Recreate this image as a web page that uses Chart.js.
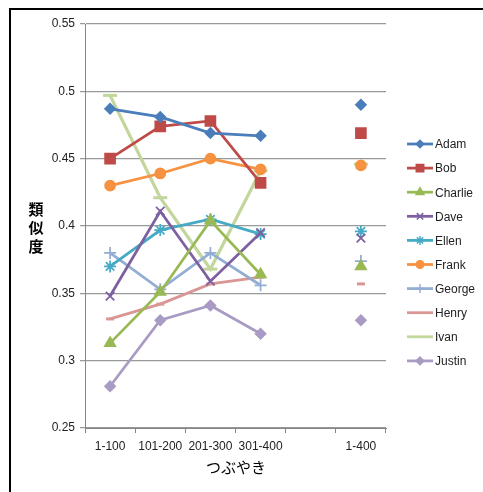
<!DOCTYPE html>
<html lang="ja">
<head>
  <meta charset="UTF-8">
  <title>類似度</title>
  <style>
    body { margin: 0; padding: 0; background: #fff; }
    #wrap { position: relative; width: 483px; height: 492px; }
    #frame { position: absolute; left: 9px; top: 8px; right: -4px; bottom: -4px; border-top: 2px solid #000; border-left: 2px solid #000; pointer-events: none; }
    canvas { display: block; }
  </style>
  <script src="https://cdn.jsdelivr.net/npm/chart.js"></script>
</head>
<body>
  <div id="wrap">
    <canvas id="chartCanvas" width="483" height="492"></canvas>
    <div id="frame"></div>
  </div>

  <script>
    // categories (blank slot separates the overall 1-400 value)
    const categories = ['1-100', '101-200', '201-300', '301-400', '', '1-400'];
    const yTicks = [0.25, 0.3, 0.35, 0.4, 0.45, 0.5, 0.55];
    const xTitle = 'つぶやき';
    const yTitle = '類似度';

    // series values
    const adam    = [0.487, 0.481, 0.469, 0.467, null, 0.490];
    const bob     = [0.450, 0.474, 0.478, 0.432, null, 0.469];
    const charlie = [0.313, 0.351, 0.404, 0.364, null, 0.370];
    const dave    = [0.348, 0.411, 0.359, 0.395, null, 0.391];
    const ellen   = [0.370, 0.397, 0.405, 0.394, null, 0.396];
    const frank   = [0.430, 0.439, 0.450, 0.442, null, 0.445];
    const george  = [0.380, 0.353, 0.380, 0.356, null, 0.374];
    const henry   = [0.331, 0.342, 0.357, 0.362, null, 0.357];
    const ivan    = [0.497, 0.421, 0.368, 0.441, null, 0.446];
    const justin  = [0.281, 0.330, 0.341, 0.320, null, 0.330];

    const series = [
      { label: 'Adam',    data: adam,    color: '#4A7EBB', style: 'rectRot',  r: 5, w: 2.75 },
      { label: 'Bob',     data: bob,     color: '#BE4B48', style: 'rect',     r: 7, w: 2.75 },
      { label: 'Charlie', data: charlie, color: '#98B954', style: 'triangle', r: 6, w: 2.75 },
      { label: 'Dave',    data: dave,    color: '#7D60A0', style: 'crossRot', r: 6, w: 2.75 },
      { label: 'Ellen',   data: ellen,   color: '#46AAC5', style: 'star',     r: 6, w: 2.75 },
      { label: 'Frank',   data: frank,   color: '#F69240', style: 'circle',   r: 5, w: 2.75 },
      { label: 'George',  data: george,  color: '#93ADD3', style: 'cross',    r: 6, w: 2.75 },
      { label: 'Henry',   data: henry,   color: '#D99694', style: 'line',     r: 4, w: 2.75 },
      { label: 'Ivan',    data: ivan,    color: '#C3D69B', style: 'line',     r: 7, w: 3.25 },
      { label: 'Justin',  data: justin,  color: '#A99BC4', style: 'rectRot',  r: 5, w: 2.75 }
    ];

    const FONT = '"Liberation Sans", Arial, sans-serif';
    const JP = '"Noto Sans CJK JP", sans-serif';

    // legend + axis titles drawn by hand, Excel style
    const extras = {
      id: 'extras',
      afterDraw(chart) {
        const ctx = chart.ctx;
        ctx.save();
        // legend
        series.forEach((s, i) => {
          const y = 144 + i * 24.1;
          ctx.strokeStyle = s.color;
          ctx.lineWidth = 2.75;
          ctx.beginPath();
          ctx.moveTo(407, y);
          ctx.lineTo(433, y);
          ctx.stroke();
          ctx.fillStyle = s.color;
          ctx.lineWidth = 1.5;
          if (s.style !== 'line') {
            Chart.helpers.drawPoint(ctx, { pointStyle: s.style, radius: s.r * 0.75, rotation: 0, borderWidth: 1.5 }, 420, y);
          }
          ctx.fillStyle = '#222';
          ctx.font = '12px ' + FONT;
          ctx.textBaseline = 'middle';
          ctx.textAlign = 'left';
          ctx.fillText(s.label, 435, y + 1);
        });
        // y title, stacked characters
        ctx.fillStyle = '#000';
        ctx.font = 'bold 15px ' + JP;
        ctx.textAlign = 'center';
        ctx.textBaseline = 'middle';
        [...yTitle].forEach((ch, i) => ctx.fillText(ch, 36, 209 + i * 18.5));
        // x title
        ctx.font = '15px ' + JP;
        ctx.fillText(xTitle, 236, 467);
        ctx.restore();
      }
    };

    const ctx = document.getElementById('chartCanvas').getContext('2d');
    new Chart(ctx, {
      type: 'line',
      data: {
        labels: categories,
        datasets: series.map(s => ({
          label: s.label,
          data: s.data,
          borderColor: s.color,
          backgroundColor: s.color,
          borderWidth: s.w,
          pointStyle: s.style,
          pointRadius: s.r,
          pointBorderWidth: s.style === 'line' ? 3 : 1.75,
          pointBorderColor: s.color,
          pointBackgroundColor: s.color,
          spanGaps: false,
          tension: 0
        }))
      },
      options: {
        responsive: false,
        animation: false,
        events: [],
        layout: { padding: { left: 10, top: 24, right: 97, bottom: 0 } },
        plugins: { legend: { display: false }, tooltip: { enabled: false } },
        scales: {
          x: {
            offset: true,
            grid: { offset: true, drawOnChartArea: false, drawTicks: true, tickLength: 5, color: '#868686' },
            border: { color: '#868686' },
            ticks: { font: { size: 12, family: FONT }, color: '#222', padding: 6, maxRotation: 0, autoSkip: false },
            afterFit: axis => { axis.height = 64; }
          },
          y: {
            min: 0.25,
            max: 0.55,
            afterBuildTicks: axis => { axis.ticks = yTicks.map(v => ({ value: v })); },
            grid: { color: '#999999', lineWidth: 1.25, tickLength: 5 },
            border: { color: '#868686' },
            ticks: {
              font: { size: 12, family: FONT },
              color: '#222',
              padding: 5,
              callback: v => String(Math.round(v * 100) / 100)
            },
            afterFit: axis => { axis.width = 75; }
          }
        }
      },
      plugins: [extras]
    });
  </script>
</body>
</html>
